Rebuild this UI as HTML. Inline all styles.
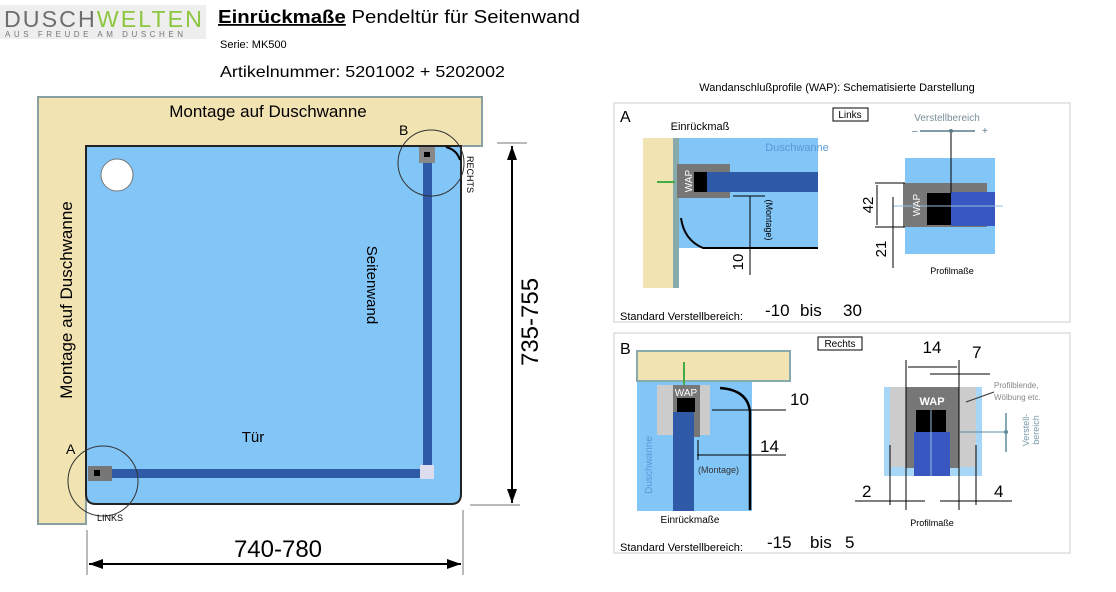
<!DOCTYPE html>
<html><head><meta charset="utf-8"><style>
html,body{margin:0;padding:0;background:#fff}
svg{display:block;font-family:"Liberation Sans",sans-serif}
</style></head><body>
<svg width="1116" height="592" viewBox="0 0 1116 592" xmlns="http://www.w3.org/2000/svg">
<defs>
<marker id="ar" markerWidth="14" markerHeight="10" refX="14" refY="5" orient="auto" markerUnits="userSpaceOnUse"><path d="M0,0 L14,5 L0,10z" fill="#000"/></marker>
<marker id="as" markerWidth="6" markerHeight="5" refX="6" refY="2.5" orient="auto" markerUnits="userSpaceOnUse"><path d="M0,0 L6,2.5 L0,5z" fill="#000"/></marker>
</defs>
<!-- header -->
<rect x="0" y="5" width="206" height="34" fill="#eeeeee"/>
<text x="4" y="27" font-size="23" fill="#6d6e70" letter-spacing="2" textLength="200" lengthAdjust="spacingAndGlyphs">DUSCH<tspan fill="#8dc63f">WELTEN</tspan></text>
<text x="5" y="37" font-size="8" fill="#777" textLength="178" lengthAdjust="spacing">AUS FREUDE AM DUSCHEN</text>
<text x="218" y="23" font-size="18" fill="#000" textLength="362" lengthAdjust="spacingAndGlyphs"><tspan font-weight="bold" text-decoration="underline">Einrückmaße</tspan> Pendeltür für Seitenwand</text>
<text x="220" y="48" font-size="11">Serie:  MK500</text>
<text x="220" y="77" font-size="16" textLength="285" lengthAdjust="spacingAndGlyphs">Artikelnummer:  5201002 + 5202002</text>

<!-- left drawing -->
<path d="M38,97 H482 V146 H86 V524 H38 Z" fill="#f2e3b3" stroke="#8aa0a0" stroke-width="2"/>
<path d="M86,146 H461 V494 Q461,504 451,504 H96 Q86,504 86,494 Z" fill="#82c5f7" stroke="#222" stroke-width="2"/>
<circle cx="117" cy="175" r="16" fill="#fff" stroke="#777"/>
<rect x="423" y="150" width="9" height="322" fill="#2f5aa8"/>
<rect x="88" y="469" width="340" height="9" fill="#2f5aa8"/>
<rect x="420" y="465" width="14" height="14" fill="#dde"/>
<rect x="419" y="147" width="16" height="16" fill="#888"/><rect x="424" y="152" width="6" height="5" fill="#000"/>
<rect x="88" y="466" width="24" height="15" fill="#777"/><rect x="94" y="470" width="6" height="6" fill="#000"/>
<circle cx="431" cy="163" r="33" fill="none" stroke="#333" stroke-width="1"/>
<circle cx="103" cy="481" r="35" fill="none" stroke="#333" stroke-width="1"/>
<path d="M446,147 Q457,150 460,160" fill="none" stroke="#000" stroke-width="2"/>
<text x="268" y="117" font-size="17" text-anchor="middle">Montage auf Duschwanne</text>
<text transform="translate(72,300) rotate(-90)" font-size="17" text-anchor="middle">Montage auf Duschwanne</text>
<text transform="translate(367,285) rotate(90)" font-size="15" text-anchor="middle">Seitenwand</text>
<text x="253" y="442" font-size="15" text-anchor="middle">Tür</text>
<text x="399" y="135" font-size="14">B</text>
<text x="66" y="454" font-size="14">A</text>
<text transform="translate(467,156) rotate(90)" font-size="9">RECHTS</text>
<text x="97" y="521" font-size="9">LINKS</text>
<!-- dims -->
<line x1="87" y1="530" x2="87" y2="575" stroke="#777"/>
<line x1="463" y1="510" x2="463" y2="575" stroke="#777"/>
<line x1="89" y1="564" x2="461" y2="564" stroke="#000" stroke-width="2" marker-end="url(#ar)"/>
<line x1="461" y1="564" x2="89" y2="564" stroke="#000" stroke-width="2" marker-end="url(#ar)"/>
<text x="278" y="557" font-size="24" text-anchor="middle">740-780</text>
<line x1="497" y1="143" x2="527" y2="143" stroke="#777"/>
<line x1="470" y1="505" x2="520" y2="505" stroke="#777"/>
<line x1="512" y1="146" x2="512" y2="503" stroke="#000" stroke-width="2" marker-end="url(#ar)"/>
<line x1="512" y1="503" x2="512" y2="146" stroke="#000" stroke-width="2" marker-end="url(#ar)"/>
<text transform="translate(538,322) rotate(-90)" font-size="24" text-anchor="middle">735-755</text>

<!-- right title -->
<text x="837" y="91" font-size="11" text-anchor="middle">Wandanschlußprofile (WAP): Schematisierte Darstellung</text>

<!-- panel A -->
<rect x="614" y="103" width="456" height="219" fill="#fff" stroke="#ccc"/>
<text x="620" y="122" font-size="16">A</text>
<text x="700" y="130" font-size="11" text-anchor="middle">Einrückmaß</text>
<rect x="833" y="108" width="35" height="13" fill="none" stroke="#000"/>
<text x="850" y="118" font-size="10" text-anchor="middle">Links</text>
<rect x="643" y="138" width="30" height="150" fill="#f2e3b3"/>
<rect x="673" y="138" width="6" height="150" fill="#8aa"/>
<rect x="679" y="138" width="139" height="110" fill="#82c5f7"/>
<text x="797" y="151" font-size="11" fill="#5a9ad8" text-anchor="middle">Duschwanne</text>
<line x1="657" y1="182" x2="675" y2="182" stroke="#4a4" stroke-width="2"/>
<rect x="677" y="164" width="53" height="34" fill="#777"/>
<rect x="697" y="172" width="121" height="20" fill="#2f5aa8"/>
<rect x="694" y="172" width="13" height="20" fill="#000"/>
<text transform="translate(692,181) rotate(-90)" font-size="10" fill="#fff" text-anchor="middle">WAP</text>
<path d="M681,218 Q684,240 703,248 H818" fill="none" stroke="#000" stroke-width="2"/>
<line x1="733" y1="196" x2="765" y2="196" stroke="#000"/>
<line x1="750" y1="196" x2="750" y2="275" stroke="#000"/>
<text transform="translate(743,262) rotate(-90)" font-size="15" text-anchor="middle">10</text>
<text transform="translate(766,220) rotate(90)" font-size="9" text-anchor="middle">(Montage)</text>
<rect x="905" y="158" width="90" height="96" fill="#82c5f7"/>
<rect x="903" y="183" width="84" height="44" fill="#777"/>
<rect x="951" y="192" width="44" height="34" fill="#3857c0"/>
<rect x="927" y="193" width="24" height="32" fill="#000"/>
<line x1="893" y1="206" x2="1003" y2="206" stroke="#9bd"/>
<text transform="translate(920,205) rotate(-90)" font-size="10" fill="#fff" text-anchor="middle">WAP</text>
<line x1="875" y1="183" x2="905" y2="183" stroke="#000"/>
<line x1="875" y1="227" x2="905" y2="227" stroke="#000"/>
<line x1="877" y1="185" x2="877" y2="225" stroke="#000"/>
<line x1="893" y1="197" x2="893" y2="268" stroke="#000"/>
<text transform="translate(873,205) rotate(-90)" font-size="15" text-anchor="middle">42</text>
<text transform="translate(886,249) rotate(-90)" font-size="15" text-anchor="middle">21</text>
<text x="947" y="121" font-size="10" fill="#7a8f9a" text-anchor="middle">Verstellbereich</text>
<line x1="920" y1="131" x2="975" y2="131" stroke="#5a7a8a" stroke-width="1.5"/>
<circle cx="951" cy="131" r="2" fill="#5a7a8a"/>
<text x="912" y="134" font-size="10" fill="#5a7a8a">–</text><text x="982" y="134" font-size="10" fill="#5a7a8a">+</text>
<line x1="951" y1="133" x2="951" y2="193" stroke="#000"/>
<text x="952" y="274" font-size="9" text-anchor="middle">Profilmaße</text>
<text x="620" y="320" font-size="11">Standard Verstellbereich:</text>
<text x="765" y="316" font-size="17">-10</text><text x="800" y="316" font-size="17">bis</text><text x="843" y="316" font-size="17">30</text>

<!-- panel B -->
<rect x="614" y="333" width="456" height="220" fill="#fff" stroke="#ccc"/>
<text x="620" y="354" font-size="16">B</text>
<rect x="818" y="337" width="44" height="13" fill="none" stroke="#000"/>
<text x="840" y="347" font-size="10" text-anchor="middle">Rechts</text>
<rect x="637" y="351" width="153" height="30" fill="#f2e3b3" stroke="#8aa" stroke-width="2"/>
<rect x="637" y="382" width="115" height="129" fill="#82c5f7"/>
<line x1="684" y1="362" x2="684" y2="385" stroke="#4a4" stroke-width="2"/>
<path d="M657,385 H710 V435 H657 Z" fill="#ccc"/>
<rect x="673" y="394" width="21" height="117" fill="#2f5aa8"/>
<rect x="673" y="385" width="27" height="52" fill="#777"/>
<rect x="677" y="398" width="18" height="14" fill="#000"/>
<rect x="673" y="412" width="21" height="25" fill="#2f5aa8"/>
<text x="686" y="396" font-size="10" fill="#fff" text-anchor="middle">WAP</text>
<path d="M720,388 Q748,390 750,412 V510" fill="none" stroke="#000" stroke-width="2.5"/>
<line x1="712" y1="410" x2="786" y2="410" stroke="#000"/>
<line x1="697" y1="455" x2="786" y2="455" stroke="#000"/>
<line x1="698" y1="440" x2="698" y2="460" stroke="#000"/>
<text x="790" y="405" font-size="17">10</text>
<text x="760" y="452" font-size="17">14</text>
<text x="698" y="473" font-size="9" fill="#333">(Montage)</text>
<text transform="translate(652,465) rotate(-90)" font-size="10" fill="#5a9ad8" text-anchor="middle">Duschwanne</text>
<text x="690" y="523" font-size="10" text-anchor="middle">Einrückmaße</text>
<rect x="884" y="387" width="98" height="89" fill="#a8d6f7"/>
<rect x="890" y="387" width="86" height="80" fill="#ccc"/>
<rect x="906" y="387" width="53" height="81" fill="#777"/>
<rect x="914" y="432" width="36" height="44" fill="#3857c0"/>
<rect x="916" y="410" width="30" height="22" fill="#000"/>
<line x1="931" y1="410" x2="931" y2="476" stroke="#9bd"/>
<text x="932" y="405" font-size="11" fill="#fff" font-weight="bold" text-anchor="middle">WAP</text>
<line x1="906" y1="360" x2="906" y2="510" stroke="#000"/>
<line x1="959" y1="360" x2="959" y2="510" stroke="#000"/>
<line x1="908" y1="367" x2="957" y2="367" stroke="#000"/>
<line x1="930" y1="374" x2="990" y2="374" stroke="#000"/>
<line x1="890" y1="445" x2="890" y2="505" stroke="#000"/>
<line x1="976" y1="445" x2="976" y2="505" stroke="#000"/>
<line x1="855" y1="501" x2="925" y2="501" stroke="#000"/>
<line x1="940" y1="501" x2="1012" y2="501" stroke="#000"/>
<text x="932" y="353" font-size="17" text-anchor="middle">14</text>
<text x="972" y="358" font-size="17">7</text>
<text x="862" y="497" font-size="17">2</text>
<text x="994" y="497" font-size="17">4</text>
<text x="932" y="526" font-size="9" text-anchor="middle">Profilmaße</text>
<text x="994" y="388" font-size="8" fill="#888">Profilblende,</text>
<text x="994" y="400" font-size="8" fill="#888">Wölbung etc.</text>
<line x1="966" y1="402" x2="994" y2="392" stroke="#333"/>
<line x1="1006" y1="413" x2="1006" y2="452" stroke="#5a8a9a" stroke-width="1.5"/>
<circle cx="1006" cy="432" r="2" fill="#5a8a9a"/>
<line x1="960" y1="432" x2="1004" y2="432" stroke="#5a8a9a"/>
<text transform="translate(1029,430) rotate(-90)" font-size="9" fill="#7a9aaa" text-anchor="middle">Verstell-</text>
<text transform="translate(1039,430) rotate(-90)" font-size="9" fill="#7a9aaa" text-anchor="middle">bereich</text>
<text x="620" y="551" font-size="11">Standard Verstellbereich:</text>
<text x="767" y="548" font-size="17">-15</text><text x="810" y="548" font-size="17">bis</text><text x="845" y="548" font-size="17">5</text>
</svg>
</body></html>
